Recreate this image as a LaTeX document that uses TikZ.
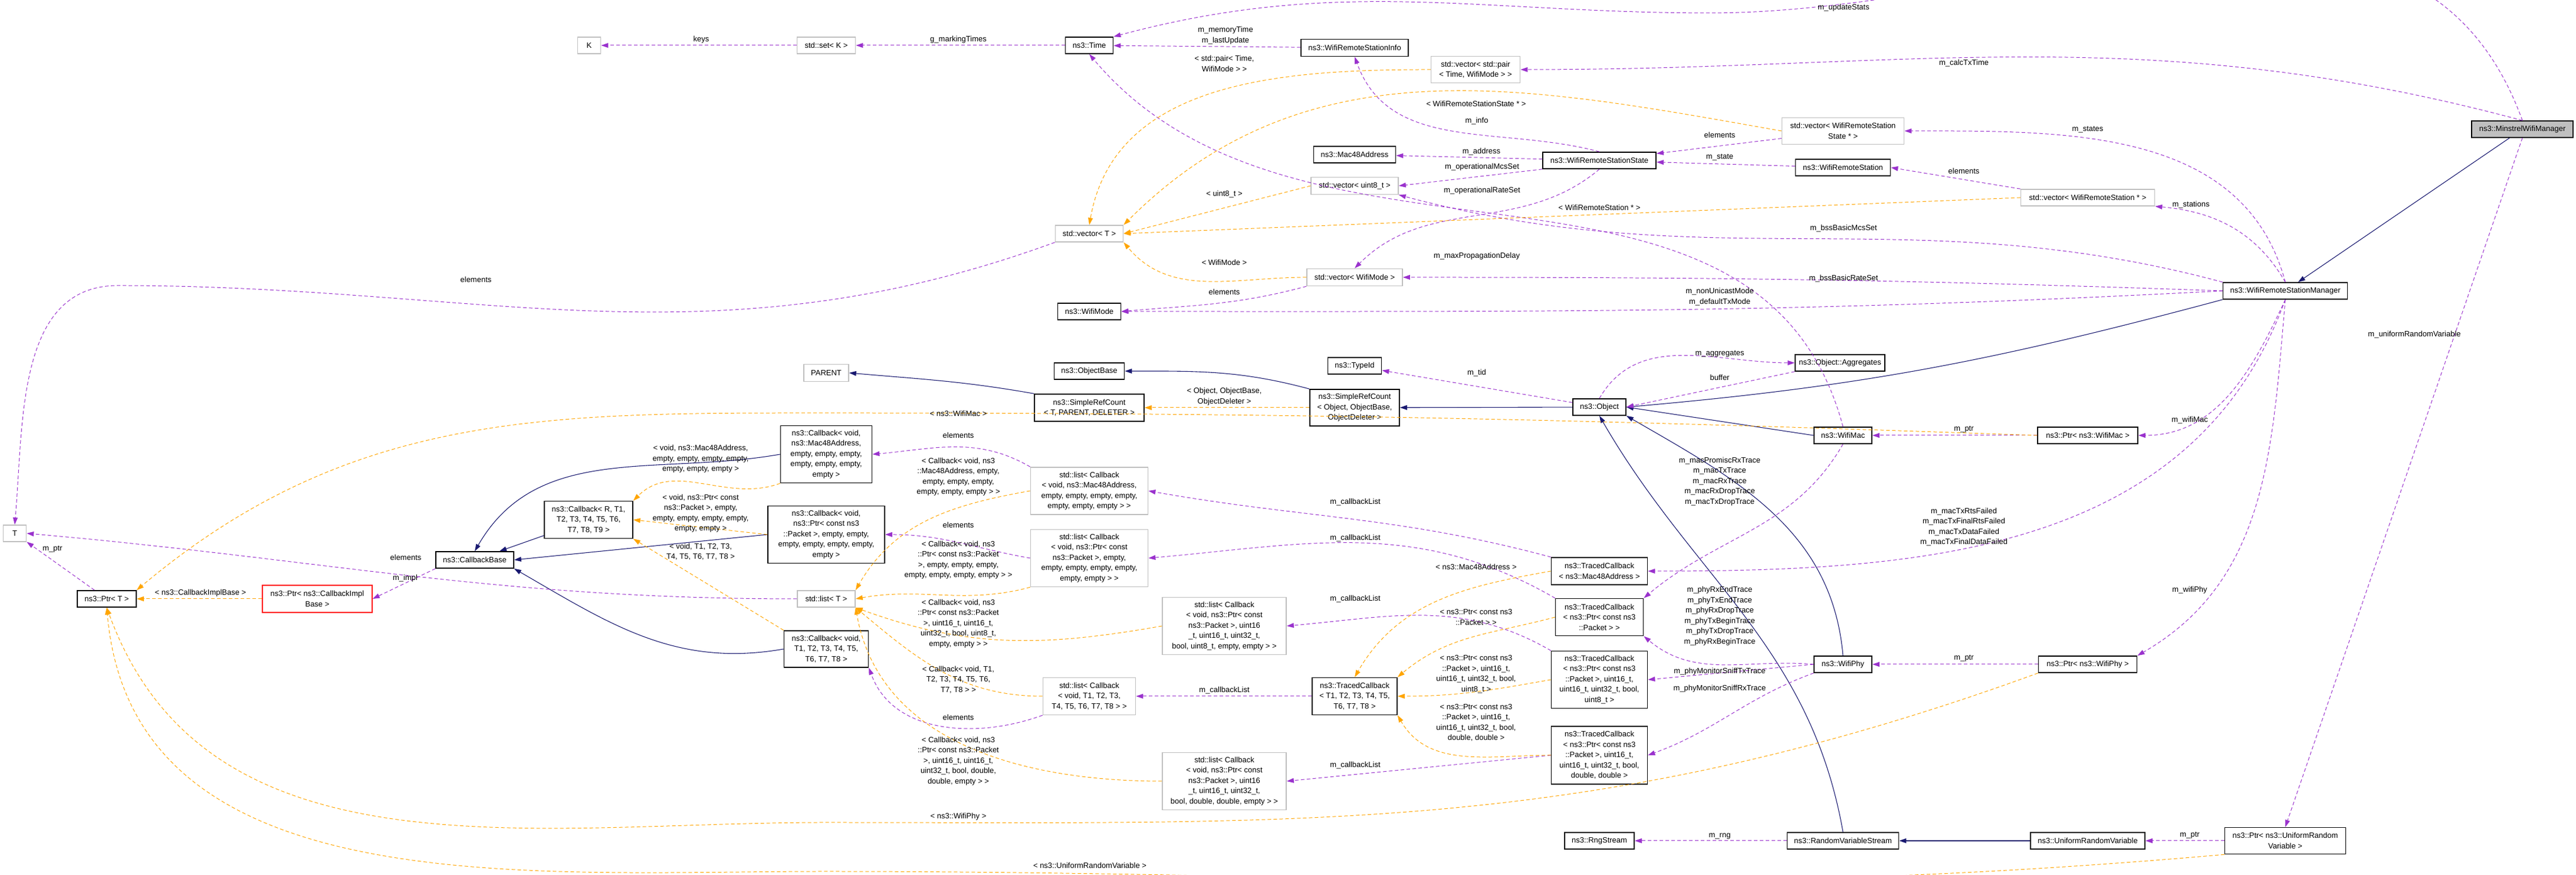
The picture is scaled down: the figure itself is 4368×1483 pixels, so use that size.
\documentclass[tikz,border=0pt]{standalone}
\usepackage{fontspec}
\setmainfont{Liberation Sans}
\usetikzlibrary{arrows.meta}
\definecolor{inhcol}{HTML}{191970}
\definecolor{usecol}{HTML}{9A32CD}
\definecolor{tplcol}{HTML}{FFA500}
\definecolor{extcol}{HTML}{BFBFBF}
\tikzset{
    cls/.style={draw=black, line width=0.16pt, fill=white, align=center, inner sep=0pt, font=\fontsize{1.3}{1.75}\selectfont},
    ext/.style={cls, draw=extcol},
    wh/.style 2 args={minimum width=#1*0.1pt, minimum height=#2*0.1pt},
    lbl/.style={align=center, inner sep=0pt, font=\fontsize{1.3}{1.75}\selectfont},
    inh/.style={draw=inhcol, line width=0.11pt, -{Triangle[length=1.2pt,width=0.8pt]}},
    use/.style={draw=usecol, line width=0.1pt, dash pattern=on 0.6pt off 0.4pt, -{Triangle[length=1.2pt,width=0.8pt]}},
    tpl/.style={draw=tplcol, line width=0.1pt, dash pattern=on 0.6pt off 0.4pt, -{Triangle[length=1.2pt,width=0.8pt]}}
}
\begin{document}
\begin{tikzpicture}[x=0.1pt, y=-0.1pt]
    \useasboundingbox (0,0) rectangle (4368,1483);

    % right part
    \node[cls, fill=extcol, wh={172}{28}] (min) at (4277,219) {ns3::MinstrelWifiManager};
    \node[cls, wh={211}{28}] (wrsm) at (3875,493) {ns3::WifiRemoteStationManager};
    \node[ext, wh={227}{28}] (vwrs) at (3540,335) {std::vector< WifiRemoteStation * >};
    \node[cls, wh={170}{28}] (pmac) at (3540,738) {ns3::Ptr< ns3::WifiMac >};
    \node[cls, wh={167}{28}] (pphy) at (3540,1126) {ns3::Ptr< ns3::WifiPhy >};
    \node[cls, wh={194}{28}] (urv) at (3540,1425) {ns3::UniformRandomVariable};
    \node[cls, wh={205}{45}] (purv) at (3875,1425) {ns3::Ptr< ns3::UniformRandom\\Variable >};
    \node[ext, wh={207}{45}] (vwrss) at (3125,222) {std::vector< WifiRemoteStation\\State * >};
    \node[cls, wh={161}{28}] (wrs) at (3125,284) {ns3::WifiRemoteStation};
    \node[cls, wh={152}{28}] (agg) at (3120,615) {ns3::Object::Aggregates};
    \node[cls, wh={98}{28}] (wmac) at (3125,738) {ns3::WifiMac};
    \node[cls, wh={98}{28}] (wphy) at (3125,1126) {ns3::WifiPhy};
    \node[cls, wh={189}{28}] (rvs) at (3125,1425) {ns3::RandomVariableStream};

    % middle part
    \node[cls, wh={182}{29}] (wrsi) at (2297,81) {ns3::WifiRemoteStationInfo};
    \node[ext, wh={151}{45}] (vpair) at (2502,118) {std::vector< std::pair\\< Time, WifiMode > >};
    \node[cls, wh={139}{28}] (mac48) at (2297,262) {ns3::Mac48Address};
    \node[cls, wh={192}{28}] (wrss) at (2712,272) {ns3::WifiRemoteStationState};
    \node[ext, wh={148}{29}] (vu8) at (2297,315) {std::vector< uint8\_t >};
    \node[ext, wh={162}{29}] (vmode) at (2297,470) {std::vector< WifiMode >};
    \node[cls, wh={91}{28}] (tid) at (2297,620) {ns3::TypeId};
    \node[cls, wh={152}{62}] (src) at (2297,691) {ns3::SimpleRefCount\\< Object, ObjectBase,\\ObjectDeleter >};
    \node[cls, wh={90}{28}] (obj) at (2712,690) {ns3::Object};
    \node[cls, wh={163}{46}] (tcmac) at (2712,968) {ns3::TracedCallback\\< ns3::Mac48Address >};
    \node[cls, wh={149}{63}] (tcpkt) at (2712,1046) {ns3::TracedCallback\\< ns3::Ptr< const ns3\\::Packet > >};
    \node[cls, wh={163}{97}] (tcu8) at (2712,1152) {ns3::TracedCallback\\< ns3::Ptr< const ns3\\::Packet >, uint16\_t,\\uint16\_t, uint32\_t, bool,\\uint8\_t >};
    \node[cls, wh={163}{98}] (tcdbl) at (2712,1280) {ns3::TracedCallback\\< ns3::Ptr< const ns3\\::Packet >, uint16\_t,\\uint16\_t, uint32\_t, bool,\\double, double >};
    \node[cls, wh={144}{63}] (tct) at (2297,1180) {ns3::TracedCallback\\< T1, T2, T3, T4, T5,\\T6, T7, T8 >};
    \node[cls, wh={118}{28}] (rng) at (2712,1425) {ns3::RngStream};

    % left part
    \node[cls, wh={81}{28}] (time) at (1847,77) {ns3::Time};
    \node[ext, wh={99}{28}] (setk) at (1401,77) {std::set< K >};
    \node[ext, wh={39}{28}] (K) at (999,77) {K};
    \node[ext, wh={115}{28}] (vt) at (1847,396) {std::vector< T >};
    \node[cls, wh={107}{28}] (wmode) at (1847,528) {ns3::WifiMode};
    \node[ext, wh={76}{29}] (parent) at (1401,632) {PARENT};
    \node[cls, wh={119}{28}] (obase) at (1847,629) {ns3::ObjectBase};
    \node[cls, wh={186}{46}] (srct) at (1847,691) {ns3::SimpleRefCount\\< T, PARENT, DELETER >};
    \node[cls, wh={155}{97}] (cbmac) at (1401,770) {ns3::Callback< void,\\ns3::Mac48Address,\\empty, empty, empty,\\empty, empty, empty,\\empty >};
    \node[cls, wh={198}{97}] (cbpkt) at (1401,906) {ns3::Callback< void,\\ns3::Ptr< const ns3\\::Packet >, empty, empty,\\empty, empty, empty, empty,\\empty >};
    \node[ext, wh={98}{28}] (listt) at (1401,1015) {std::list< T >};
    \node[cls, wh={143}{62}] (cbt8) at (1401,1100) {ns3::Callback< void,\\T1, T2, T3, T4, T5,\\T6, T7, T8 >};
    \node[ext, wh={199}{80}] (lmac) at (1847,832) {std::list< Callback\\< void, ns3::Mac48Address,\\empty, empty, empty, empty,\\empty, empty, empty > >};
    \node[ext, wh={199}{97}] (lpkt) at (1847,946) {std::list< Callback\\< void, ns3::Ptr< const\\ns3::Packet >, empty,\\empty, empty, empty, empty,\\empty, empty > >};
    \node[ext, wh={157}{63}] (lt8) at (1847,1180) {std::list< Callback\\< void, T1, T2, T3,\\T4, T5, T6, T7, T8 > >};
    \node[ext, wh={210}{97}] (lu8) at (2076,1061) {std::list< Callback\\< void, ns3::Ptr< const\\ns3::Packet >, uint16\\\_t, uint16\_t, uint32\_t,\\bool, uint8\_t, empty, empty > >};
    \node[ext, wh={210}{97}] (ldbl) at (2076,1324) {std::list< Callback\\< void, ns3::Ptr< const\\ns3::Packet >, uint16\\\_t, uint16\_t, uint32\_t,\\bool, double, double, empty > >};
    \node[cls, wh={150}{63}] (cbr) at (998,881) {ns3::Callback< R, T1,\\T2, T3, T4, T5, T6,\\T7, T8, T9 >};
    \node[cls, wh={132}{28}] (cbase) at (805,949) {ns3::CallbackBase};
    \node[cls, draw=red, wh={186}{46}] (pcib) at (538,1015) {ns3::Ptr< ns3::CallbackImpl\\Base >};
    \node[cls, wh={100}{28}] (ptrt) at (181,1015) {ns3::Ptr< T >};
    \node[ext, wh={39}{28}] (T) at (25,904) {T};

    \coordinate (wUpd) at (2900,22);
    \coordinate (wElem) at (200,484);
    \coordinate (wMacT) at (1400,700);
    \coordinate (wPhyT) at (1400,1394);
    \coordinate (wUrvT) at (1400,1477);

    % inheritance
    \draw[inh] (min) -- (wrsm);
    \draw[inh] (wrsm.south west) to[out=195,in=5] (obj.east);
    \draw[inh] (wmac.west) -- (obj.east);
    \draw[inh] (wphy.north) to[out=95,in=-30] (obj.south east);
    \draw[inh] (rvs.north) to[out=100,in=-60] (obj.south);
    \draw[inh] (urv) -- (rvs);
    \draw[inh] (obj) -- (src);
    \draw[inh] (src.north west) to[out=165,in=0] (obase.east);
    \draw[inh] (srct.north west) to[out=170,in=-5] (parent.east);
    \draw[inh] (cbr) -- (cbase);
    \draw[inh] (cbmac.west) to[out=190,in=60] (cbase.north);
    \draw[inh] (cbpkt.west) -- (cbase.east);
    \draw[inh] (cbt8.west) to[out=190,in=-30] (cbase.south east);

    % usage
    \draw[use] (min.north) to[out=110,in=0] (wUpd) to[out=180,in=15] (time.north east);
    \draw[use] (min.north) to[out=165,in=0] (vpair.east);
    \draw[use] (wrsm.north) to[out=105,in=0] (vwrss.east);
    \draw[use] (wrsm.north) to[out=120,in=-5] (vwrs.south east);
    \draw[use] (wrsm.north west) to[out=165,in=-15] (vu8.south east);
    \draw[use] (wrsm.west) to[out=178,in=0] (vmode.east);
    \draw[use] (wrsm.west) to[out=183,in=0] (wmode.east);
    \draw[use] (wrsm.south) to[out=-115,in=0] (pmac.east);
    \draw[use] (wrsm.south) to[out=-110,in=0] (tcmac.east);
    \draw[use] (wrsm.south) to[out=-95,in=30] (pphy.north east);
    \draw[use] (min.south) -- (purv.north);
    \draw[use] (pmac) -- (wmac);
    \draw[use] (pphy) -- (wphy);
    \draw[use] (purv) -- (urv);
    \draw[use] (vwrss) -- (wrss);
    \draw[use] (wrs) -- (wrss);
    \draw[use] (vwrs.north west) -- (wrs.east);
    \draw[use] (wrss.north) to[out=165,in=-70] (wrsi.south);
    \draw[use] (wrss) -- (mac48);
    \draw[use] (wrss.south west) -- (vu8.east);
    \draw[use] (wrss.south) to[out=-140,in=45] (vmode.north);
    \draw[use] (wrsi) -- (time);
    \draw[use] (wmac.north) to[out=105,in=-50] (time.south);
    \draw[use] (time) -- (setk);
    \draw[use] (setk) -- (K);
    \draw[use] (vmode.south west) to[out=195,in=5] (wmode.east);
    \draw[use] (vt.south west) to[out=200,in=0] (wElem) to[out=180,in=85] (T.north);
    \draw[use] (obj) -- (tid);
    \draw[use] (obj.north) to[out=60,in=180] (agg.west);
    \draw[use] (agg.south west) -- (obj.east);
    \draw[use] (rvs) -- (rng);
    \draw[use] (ptrt) -- (T);
    \draw[use] (cbase.south west) -- (pcib.east);
    \draw[use] (listt.west) to[out=180,in=-5] (T.east);
    \draw[use] (lmac.north west) to[out=150,in=5] (cbmac.east);
    \draw[use] (lpkt.west) to[out=170,in=0] (cbpkt.east);
    \draw[use] (lt8.south west) to[out=200,in=-70] (cbt8.south east);
    \draw[use] (tcmac.north west) to[out=165,in=-10] (lmac.east);
    \draw[use] (tcpkt.north west) to[out=150,in=5] (lpkt.east);
    \draw[use] (tcu8.north west) to[out=150,in=5] (lu8.east);
    \draw[use] (tcdbl.west) -- (ldbl.east);
    \draw[use] (tct) -- (lt8);
    \draw[use] (wmac.south) to[out=-120,in=40] (tcpkt.north east);
    \draw[use] (wphy.west) to[out=175,in=-40] (tcpkt.south east);
    \draw[use] (wphy.west) -- (tcu8.east);
    \draw[use] (wphy.south west) to[out=200,in=20] (tcdbl.east);

    % templates
    \draw[tpl] (vpair.west) to[out=180,in=80] (vt.north);
    \draw[tpl] (vwrss.west) to[out=170,in=45] (vt.north east);
    \draw[tpl] (vu8.west) -- (vt.east);
    \draw[tpl] (vwrs.west) -- (vt.east);
    \draw[tpl] (vmode.west) to[out=180,in=-50] (vt.south east);
    \draw[tpl] (src) -- (srct);
    \draw[tpl] (pmac.west) to[out=178,in=0] (wMacT) to[out=180,in=40] (ptrt.north east);
    \draw[tpl] (pphy.south west) to[out=200,in=0] (wPhyT) to[out=180,in=-70] (ptrt.south);
    \draw[tpl] (purv.south west) to[out=185,in=0] (wUrvT) to[out=180,in=-85] (ptrt.south);
    \draw[tpl] (pcib) -- (ptrt);
    \draw[tpl] (cbmac.south west) to[out=200,in=45] (cbr.north east);
    \draw[tpl] (cbpkt.west) -- (cbr.east);
    \draw[tpl] (cbt8.north west) -- (cbr.south east);
    \draw[tpl] (lmac.west) to[out=190,in=60] (listt.north east);
    \draw[tpl] (lpkt.south west) to[out=195,in=10] (listt.east);
    \draw[tpl] (lu8.west) to[out=190,in=-20] (listt.south east);
    \draw[tpl] (lt8.west) to[out=180,in=-40] (listt.south east);
    \draw[tpl] (ldbl.west) to[out=180,in=-80] (listt.south east);
    \draw[tpl] (tcmac.west) to[out=190,in=60] (tct.north);
    \draw[tpl] (tcpkt.west) to[out=195,in=40] (tct.north east);
    \draw[tpl] (tcu8.west) to[out=190,in=0] (tct.east);
    \draw[tpl] (tcdbl.west) to[out=180,in=-60] (tct.south east);

    % labels
    \node[lbl] (lUpd) at (3126,13) {m\_updateStats};
    \node[lbl] (lCalc) at (3330,107) {m\_calcTxTime};
    \node[lbl] (lStates) at (3540,220) {m\_states};
    \node[lbl] (lElWrs) at (3330,290) {elements};
    \node[lbl] (lStations) at (3715,347) {m\_stations};
    \node[lbl] (lMcs) at (3126,387) {m\_bssBasicMcsSet};
    \node[lbl] (lRate) at (3126,472) {m\_bssBasicRateSet};
    \node[lbl] (lMode) at (2916,503) {m\_nonUnicastMode\\m\_defaultTxMode};
    \node[lbl] (lWMac) at (3713,712) {m\_wifiMac};
    \node[lbl] (lFail) at (3330,893) {m\_macTxRtsFailed\\m\_macTxFinalRtsFailed\\m\_macTxDataFailed\\m\_macTxFinalDataFailed};
    \node[lbl] (lWPhy) at (3713,1000) {m\_wifiPhy};
    \node[lbl] (lUrv) at (4094,567) {m\_uniformRandomVariable};
    \node[lbl] (lPMac) at (3330,728) {m\_ptr};
    \node[lbl] (lPPhy) at (3330,1116) {m\_ptr};
    \node[lbl] (lPUrv) at (3713,1416) {m\_ptr};
    \node[lbl] (lElWrss) at (2916,229) {elements};
    \node[lbl] (lTWrss) at (2503,176) {< WifiRemoteStationState * >};
    \node[lbl] (lState) at (2916,267) {m\_state};
    \node[lbl] (lTWrs) at (2712,352) {< WifiRemoteStation * >};
    \node[lbl] (lInfo) at (2504,205) {m\_info};
    \node[lbl] (lAddr) at (2512,257) {m\_address};
    \node[lbl] (lOpMcs) at (2513,283) {m\_operationalMcsSet};
    \node[lbl] (lOpRate) at (2513,323) {m\_operationalRateSet};
    \node[lbl] (lMem) at (2078,60) {m\_memoryTime\\m\_lastUpdate};
    \node[lbl] (lTPair) at (2076,108) {< std::pair< Time,\\WifiMode > >};
    \node[lbl] (lTU8) at (2076,329) {< uint8\_t >};
    \node[lbl] (lTMode) at (2076,445) {< WifiMode >};
    \node[lbl] (lElMode) at (2076,495) {elements};
    \node[lbl] (lElVt) at (807,474) {elements};
    \node[lbl] (lKeys) at (1189,67) {keys};
    \node[lbl] (lMark) at (1625,67) {g\_markingTimes};
    \node[lbl] (lDelay) at (2504,434) {m\_maxPropagationDelay};
    \node[lbl] (lTSrc) at (2076,672) {< Object, ObjectBase,\\ObjectDeleter >};
    \node[lbl] (lTid) at (2504,632) {m\_tid};
    \node[lbl] (lAgg) at (2916,600) {m\_aggregates};
    \node[lbl] (lBuf) at (2916,640) {buffer};
    \node[lbl] (lRng) at (2916,1417) {m\_rng};
    \node[lbl] (lTUrv) at (1848,1467) {< ns3::UniformRandomVariable >};
    \node[lbl] (lTPhy) at (1625,1384) {< ns3::WifiPhy >};
    \node[lbl] (lTMac) at (1625,701) {< ns3::WifiMac >};
    \node[lbl] (lPtrT) at (89,931) {m\_ptr};
    \node[lbl] (lTCib) at (340,1005) {< ns3::CallbackImplBase >};
    \node[lbl] (lImpl) at (687,980) {m\_impl};
    \node[lbl] (lElList) at (688,945) {elements};
    \node[lbl] (lTCbMac) at (1188,778) {< void, ns3::Mac48Address,\\empty, empty, empty, empty,\\empty, empty, empty >};
    \node[lbl] (lTCbPkt) at (1188,870) {< void, ns3::Ptr< const\\ns3::Packet >, empty,\\empty, empty, empty, empty,\\empty, empty >};
    \node[lbl] (lTCbT8) at (1188,935) {< void, T1, T2, T3,\\T4, T5, T6, T7, T8 >};
    \node[lbl] (lElCbMac) at (1625,738) {elements};
    \node[lbl] (lElCbPkt) at (1625,890) {elements};
    \node[lbl] (lElCbT8) at (1625,1216) {elements};
    \node[lbl] (lTLMac) at (1625,808) {< Callback< void, ns3\\::Mac48Address, empty,\\empty, empty, empty,\\empty, empty, empty > >};
    \node[lbl] (lTLPkt) at (1625,949) {< Callback< void, ns3\\::Ptr< const ns3::Packet\\>, empty, empty, empty,\\empty, empty, empty, empty > >};
    \node[lbl] (lTLU8) at (1625,1057) {< Callback< void, ns3\\::Ptr< const ns3::Packet\\>, uint16\_t, uint16\_t,\\uint32\_t, bool, uint8\_t,\\empty, empty > >};
    \node[lbl] (lTLT8) at (1625,1152) {< Callback< void, T1,\\T2, T3, T4, T5, T6,\\T7, T8 > >};
    \node[lbl] (lTLDbl) at (1625,1290) {< Callback< void, ns3\\::Ptr< const ns3::Packet\\>, uint16\_t, uint16\_t,\\uint32\_t, bool, double,\\double, empty > >};
    \node[lbl] (lCbl1) at (2298,851) {m\_callbackList};
    \node[lbl] (lCbl2) at (2298,912) {m\_callbackList};
    \node[lbl] (lCbl3) at (2298,1015) {m\_callbackList};
    \node[lbl] (lCbl4) at (2298,1297) {m\_callbackList};
    \node[lbl] (lCbl5) at (2076,1170) {m\_callbackList};
    \node[lbl] (lTTcMac) at (2503,961) {< ns3::Mac48Address >};
    \node[lbl] (lTTcPkt) at (2503,1046) {< ns3::Ptr< const ns3\\::Packet > >};
    \node[lbl] (lTTcU8) at (2503,1143) {< ns3::Ptr< const ns3\\::Packet >, uint16\_t,\\uint16\_t, uint32\_t, bool,\\uint8\_t >};
    \node[lbl] (lTTcDbl) at (2503,1225) {< ns3::Ptr< const ns3\\::Packet >, uint16\_t,\\uint16\_t, uint32\_t, bool,\\double, double >};
    \node[lbl] (lMacTr) at (2916,816) {m\_macPromiscRxTrace\\m\_macTxTrace\\m\_macRxTrace\\m\_macRxDropTrace\\m\_macTxDropTrace};
    \node[lbl] (lPhyTr) at (2916,1044) {m\_phyRxEndTrace\\m\_phyTxEndTrace\\m\_phyRxDropTrace\\m\_phyTxBeginTrace\\m\_phyTxDropTrace\\m\_phyRxBeginTrace};
    \node[lbl] (lSniffTx) at (2916,1138) {m\_phyMonitorSniffTxTrace};
    \node[lbl] (lSniffRx) at (2916,1167) {m\_phyMonitorSniffRxTrace};
\end{tikzpicture}
\end{document}
